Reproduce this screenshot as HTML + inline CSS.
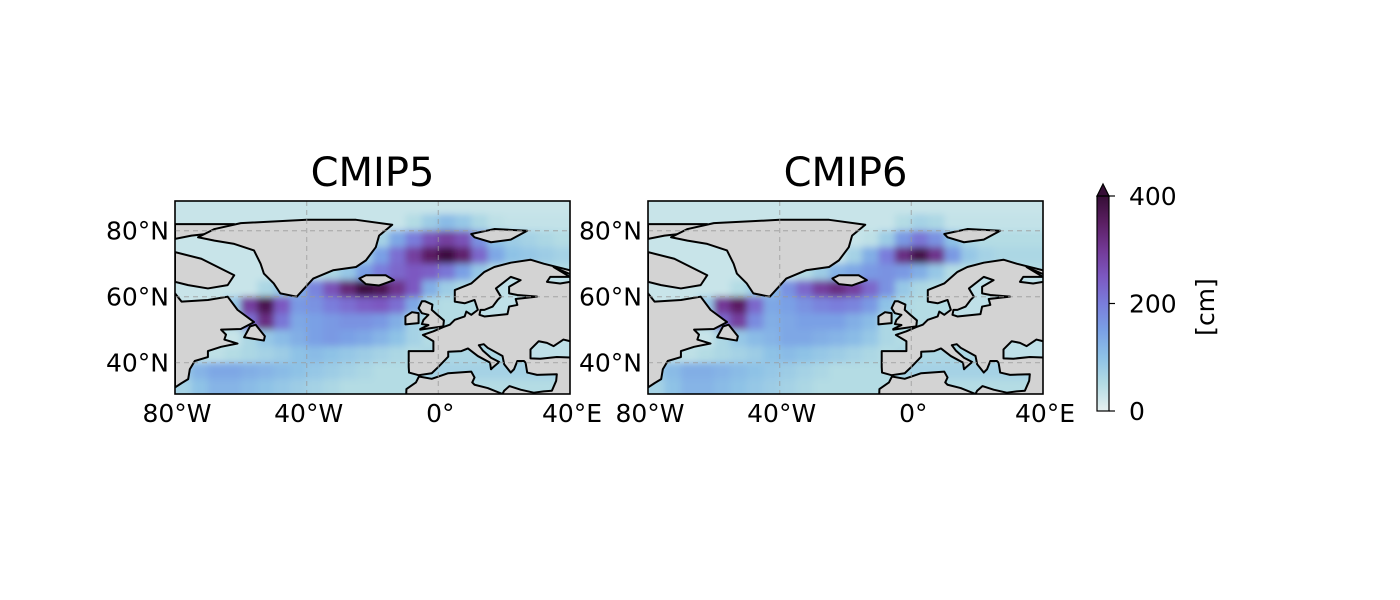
<!DOCTYPE html>
<html><head><meta charset="utf-8"><style>
html,body{margin:0;padding:0;background:#fff;}
svg{display:block;font-family:"DejaVu Sans","Liberation Sans",sans-serif;}
</style></head><body>
<svg id="chart" width="1400" height="600" viewBox="0 0 1400 600" xmlns="http://www.w3.org/2000/svg">
<defs>
<filter id="blur" x="-5%" y="-5%" width="110%" height="110%"><feGaussianBlur stdDeviation="3.5"/></filter>
<clipPath id="clip1"><rect x="175" y="201" width="395" height="193"/></clipPath>
<clipPath id="clip2"><rect x="648" y="201" width="395" height="193"/></clipPath>
<linearGradient id="cbgrad" x1="0" y1="1" x2="0" y2="0">
<stop offset="0" stop-color="#e6f0f0"/><stop offset="0.125" stop-color="#b4dce4"/>
<stop offset="0.25" stop-color="#8ec2e6"/><stop offset="0.375" stop-color="#7aa0e5"/>
<stop offset="0.5" stop-color="#7a7ddb"/><stop offset="0.625" stop-color="#7c58c1"/>
<stop offset="0.75" stop-color="#733996"/><stop offset="0.875" stop-color="#5b1f63"/>
<stop offset="1" stop-color="#360e36"/></linearGradient>
</defs>
</svg>
<script>
// grid: lon centers -77.5..37.5 (5°), lat rows 87.5 down to 32.5
const lonCenters=[-77.5,-72.5,-67.5,-62.5,-57.5,-52.5,-47.5,-42.5,-37.5,-32.5,-27.5,-22.5,-17.5,-12.5,-7.5,-2.5,2.5,7.5,12.5,17.5,22.5,27.5,32.5,37.5];
const latCenters=[87.5,82.5,77.5,72.5,67.5,62.5,57.5,52.5,47.5,42.5,37.5,32.5];
const cmip5=[
[30,30,30,30,30,30,30,30,30,30,30,30,30,30,30,30,30,30,30,30,30,30,30,30],
[30,30,30,30,30,30,30,30,30,30,30,30,30,30,50,80,110,90,60,40,35,35,35,35],
[30,30,30,30,30,30,30,30,30,30,30,30,70,140,200,260,290,260,170,100,80,70,60,50],
[30,30,30,30,30,30,30,30,30,30,40,80,150,220,290,350,390,340,230,140,100,90,80,70],
[30,30,30,30,30,30,30,30,40,60,90,150,200,230,250,240,210,150,90,50,50,50,50,50],
[30,30,30,30,30,60,90,130,190,260,330,390,370,310,250,130,80,60,50,50,50,50,50,50],
[30,30,30,90,290,370,250,160,170,200,220,240,250,220,140,60,50,50,50,50,50,50,50,50],
[30,30,30,60,220,320,210,140,150,160,170,170,160,130,70,50,50,50,50,50,50,50,50,50],
[30,30,30,30,60,90,110,130,150,160,150,140,120,100,70,50,50,50,50,50,50,50,50,50],
[40,40,40,50,60,70,80,100,110,100,90,80,70,60,50,60,60,60,60,60,60,60,60,60],
[90,120,140,140,130,120,110,100,90,80,70,60,50,50,50,70,70,70,70,70,70,70,70,70],
[70,100,120,120,110,100,90,80,70,60,50,50,50,50,50,50,50,50,50,50,50,50,50,50]];
const cmip6=[
[30,30,30,30,30,30,30,30,30,30,30,30,30,30,30,30,30,30,30,30,30,30,30,30],
[30,30,30,30,30,30,30,30,30,30,30,30,30,30,30,50,70,60,35,35,35,35,35,35],
[30,30,30,30,30,30,30,30,30,30,30,30,30,40,80,160,210,170,100,60,50,50,50,50],
[30,30,30,30,30,30,30,30,30,30,30,30,70,130,200,320,380,310,160,90,70,60,60,60],
[30,30,30,30,30,30,30,30,30,50,80,120,140,160,170,160,130,90,50,50,50,50,50,50],
[30,30,30,30,30,50,80,110,170,230,290,320,290,230,170,90,60,50,50,50,50,50,50,50],
[30,30,30,90,300,350,230,140,150,170,190,200,190,160,100,60,50,50,50,50,50,50,50,50],
[30,30,30,60,230,290,180,130,140,150,150,150,130,110,60,50,50,50,50,50,50,50,50,50],
[30,30,30,30,60,90,110,120,140,140,130,120,110,90,60,50,50,50,50,50,50,50,50,50],
[40,40,40,50,60,70,80,100,110,100,90,80,70,60,50,60,60,60,60,60,60,60,60,60],
[90,110,130,130,120,110,100,90,80,70,60,50,50,50,50,70,70,70,70,70,70,70,70,70],
[70,100,120,120,110,100,90,80,70,60,50,50,50,50,50,50,50,50,50,50,50,50,50,50]];
const lonTicks=[-80,-40,0,40];
const lonLabels=["80°W","40°W","0°","40°E"];
const latTicks=[40,60,80];
const latLabels=["40°N","60°N","80°N"];
const cbTicks=[0,200,400];
const titles=["CMIP5","CMIP6"];

const land=[
[[-80,82],[-62,82],[-66,79.5],[-75,78.5],[-80,77.5]],
[[-73,78],[-68,80.5],[-60,82.3],[-40,83.3],[-25,83.3],[-14,81.8],[-18,78.5],[-19,75],[-22,71],[-25,69],[-32,68],[-38,65.5],[-43,60],[-48,61],[-50,64],[-53,67],[-54,70],[-56,74],[-62,76],[-68,77]],
[[-80,73.5],[-72,71.5],[-67,69],[-62,66.5],[-64,63.5],[-70,62.5],[-76,63.5],[-80,64.5]],
[[-80,61],[-78,58.5],[-70,59],[-64,60],[-61,56],[-56,52.3],[-60,50.2],[-66,50],[-64.5,48.5],[-65,47],[-61,45.8],[-66,44.8],[-70,43.5],[-70,41.7],[-74,40.5],[-75.5,38],[-76,35],[-78,33.8],[-80,32.5]],
[[-59,47.7],[-53,46.7],[-52.7,48],[-55.5,51.5],[-57.2,51]],
[[-24,65.5],[-22,66.5],[-16,66.5],[-13.5,65],[-18,63.4],[-22,63.8]],
[[10,79],[17,80.5],[27,80],[22,77.3],[16,76.5],[11,78]],
[[-10,51.6],[-6,52],[-6,55],[-8,55.3],[-10,54]],
[[-5.5,50],[1.5,51],[1.7,52.8],[-0.3,54.5],[-2,56],[-1.8,57.6],[-4,58.6],[-5,58.6],[-6,56.5],[-5,55],[-3,54.5],[-4.5,53],[-5,51.7],[-3,51.4],[-5.5,50.2]],
[[40,68],[32,70],[28,71.2],[22,70.3],[17,69],[14,67.5],[10,64],[5,62],[5,58.5],[8,58],[11,59],[12,56],[10,54.5],[8.5,55.5],[8,54],[5,53],[3.5,51.5],[1.5,50.8],[-1.5,49.5],[-4.7,48.4],[-1.5,46.5],[-1.5,43.5],[-9,43.5],[-9,38.7],[-8.9,37],[-6,36.2],[-2,36.8],[0,38.7],[3,41.8],[3,43.3],[7,43.5],[9,44.3],[12,42],[15.7,40],[16,38],[16.5,38.5],[18.5,40.2],[16,41.5],[13.5,43.7],[12.3,45.3],[13.8,45.6],[15,44.5],[19.5,42],[20,39.5],[22,37],[23,38],[24,40.5],[26,40.5],[26.5,40],[27,37],[30,36.3],[36,36.5],[35.8,34.5],[34.5,31.5],[32,31.3],[29,30.9],[25,31.8],[21.6,32.9],[20,31.5],[19.5,30.5],[15,32.3],[11,33.3],[10.3,34],[11,35.5],[10,37.3],[3,36.8],[-2,35.1],[-5.9,35.8],[-6.8,34],[-9.7,32],[-9.8,29],[42,29],[42,68]]];
const seas=[
[[12.5,54.5],[14,54],[21,54.7],[21.5,57],[24,57.5],[23.5,59.3],[30,60],[24,60.5],[21.5,61],[21.5,63],[25,65],[22,66],[17.5,62.5],[19,60],[18,59],[16.5,57],[14,56],[12.8,56]],
[[28,41.3],[28,44],[30.5,46.5],[33,46],[35,45],[38,47],[42,46],[42,43.5],[41.5,41.5],[36,41.7],[31,41.2]],
[[35,69],[40,66],[34,66],[33,64.5],[37,64],[40,64.5],[42,66]]];

const cmapStops=[[0,[230,240,240]],[50,[180,220,228]],[100,[142,194,230]],[150,[122,160,229]],[200,[122,125,219]],[250,[124,88,193]],[300,[115,57,150]],[350,[91,31,99]],[400,[54,14,54]]];
function cmap(v){v=Math.max(0,Math.min(400,v));for(let i=1;i<cmapStops.length;i++){if(v<=cmapStops[i][0]){const a=cmapStops[i-1],b=cmapStops[i];const t=(v-a[0])/(b[0]-a[0]);const c=a[1].map((x,k)=>Math.round(x+(b[1][k]-x)*t));return `rgb(${c[0]},${c[1]},${c[2]})`;}}return "rgb(54,14,54)";}

const NS="http://www.w3.org/2000/svg";
const svg=document.getElementById('chart');
function mk(tag,attrs,parent){const e=document.createElementNS(NS,tag);for(const k in attrs)e.setAttribute(k,attrs[k]);(parent||svg).appendChild(e);return e;}

const maps=[{x0:175,clip:'clip1',data:cmip5},{x0:648,clip:'clip2',data:cmip6}];
const Y0=201,W=395,H=193;
maps.forEach((m,mi)=>{
  const xs=lon=>m.x0+(lon+80)/120*W;
  const ys=lat=>Y0+(89-lat)/58.5*H;
  const g=mk('g',{'clip-path':`url(#${m.clip})`});
  
  
  const field=mk('g',{filter:'url(#blur)'},g);
  
  
  m.data.forEach((row,ri)=>{row.forEach((v,ci)=>{
    const lo=lonCenters[ci],la=latCenters[ri];
    let x1=xs(lo-2.5),x2=xs(lo+2.5),y1=ys(la+2.5),y2=ys(la-2.5);
    if(ci===0)x1-=20; if(ci===row.length-1)x2+=20; if(ri===0)y1-=20; if(ri===m.data.length-1)y2+=20;
    const r=mk('rect',{x:x1,y:y1,width:x2-x1+0.6,height:y2-y1+0.6,fill:cmap(v)},field);
    
    
  });});
  land.forEach(poly=>{
    const p=mk('polygon',{points:poly.map(q=>xs(q[0])+','+ys(q[1])).join(' '),fill:'#d3d3d3',stroke:'#000','stroke-width':2,'stroke-linejoin':'round'},g);
    
    
  });
  seas.forEach(poly=>{
    const p=mk('polygon',{points:poly.map(q=>xs(q[0])+','+ys(q[1])).join(' '),fill:'#bfe0e8',stroke:'#000','stroke-width':2,'stroke-linejoin':'round'},g);
    
    
  });
  lonTicks.forEach((lo,i)=>{
    if(i>0&&i<lonTicks.length-1){const l=mk('line',{x1:xs(lo),x2:xs(lo),y1:Y0,y2:Y0+H,stroke:'#999','stroke-opacity':0.6,'stroke-width':1.3,'stroke-dasharray':'5,4'},g);
      
      }
    const t=mk('text',{x:xs(lo)+2,y:422,'font-size':25,'text-anchor':'middle',fill:'#000'});
    t.textContent=lonLabels[i];
    
    
  });
  latTicks.forEach((la,i)=>{
    const l=mk('line',{x1:m.x0,x2:m.x0+W,y1:ys(la),y2:ys(la),stroke:'#999','stroke-opacity':0.6,'stroke-width':1.3,'stroke-dasharray':'5,4'},g);
    
    
    const t=mk('text',{x:m.x0-6,y:ys(la)+9,'font-size':25,'text-anchor':'end',fill:'#000'});
    t.textContent=latLabels[i];
    
    
  });
  const fr=mk('rect',{x:m.x0,y:Y0,width:W,height:H,fill:'none',stroke:'#000','stroke-width':1.6});
  
  
  const tt=mk('text',{x:m.x0+W/2,y:186,'font-size':40,'text-anchor':'middle',fill:'#000'});
  tt.textContent=titles[mi];
  
  
});

// colorbar
const cbX=1097,cbW=12,cbTop=196,cbBot=411;
const cy=v=>cbBot-(v/400)*(cbBot-cbTop);
const cbr=mk('rect',{x:cbX,y:cbTop,width:cbW,height:cbBot-cbTop,fill:'url(#cbgrad)'});


const tri=mk('polygon',{points:`${cbX},${cbTop} ${cbX+cbW/2},${cbTop-12} ${cbX+cbW},${cbTop}`,fill:'#360e36',stroke:'#000','stroke-width':1.2});


const cbo=mk('rect',{x:cbX,y:cbTop,width:cbW,height:cbBot-cbTop,fill:'none',stroke:'#000','stroke-width':1.2});


cbTicks.forEach(v=>{
  const l=mk('line',{x1:cbX+cbW,x2:cbX+cbW+6,y1:cy(v),y2:cy(v),stroke:'#000','stroke-width':1.2});
  
  
  const t=mk('text',{x:1129,y:cy(v)+9,'font-size':25,fill:'#000'});
  t.textContent=String(v);
  
  
});
const cl=mk('text',{x:1214,y:307,'font-size':25,'text-anchor':'middle',fill:'#000',transform:'rotate(-90 1214 307)'});
cl.textContent='[cm]';


</script>
</body></html>
